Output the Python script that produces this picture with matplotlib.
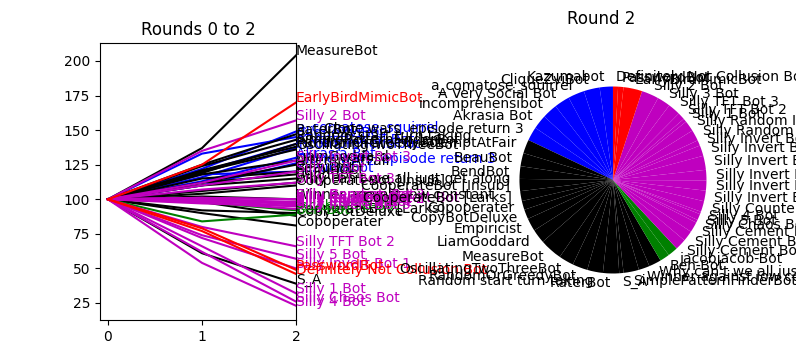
import matplotlib
matplotlib.use("Agg")
import matplotlib.pyplot as plt

# bots in pie order (counter-clockwise from the top), colour = team
names = [
    "Kazumabot", "CliqueZviBot", "a_comatose_squirrel", "A Very Social Bot",
    "incomprehensibot", "Akrasia Bot", "Clone wars, episode return 3",
    "AttemptAtFair", "BeauBot", "BendBot", "CooperateBot [Insub]",
    "CooperateBot [Larks]", "Copoperater", "CopyBotDeluxe", "Empiricist",
    "LiamGoddard", "MeasureBot", "OscillatingTwoThreeBot", "RandomOrGreedyBot",
    "Random start turn taking", "RaterBot", "S_A", "SimplePatternFinderBot",
    "Winner against low constant", "Why can't we all just get along",
    "Ben-Bot", "jacobjacob-Bot",
    "Silly Cement Bot 3", "Silly Cement Bot 2", "Silly Cement Bot",
    "Silly Chaos Bot", "Silly 5 Bot", "Silly 4 Bot", "Silly Counter Bot",
    "Silly Invert Bot 6", "Silly Invert Bot 5", "Silly Invert Bot 4",
    "Silly Invert Bot 3", "Silly Invert Bot 2", "Silly Invert Bot 1",
    "Silly Random Bot", "Silly Random Invert Bot", "Silly 1 Bot",
    "Silly TFT Bot 2", "Silly TFT Bot 3", "Silly 3 Bot", "Silly 2 Bot",
    "EarlyBirdMimicBot", "PasswordBot", "Definitely Not Collusion Bot",
]
colors = (["b"] * 7 + ["k"] * 18 + ["g"] * 2 + ["m"] * 20 + ["r"] * 3)

round0 = [100] * len(names)
round1 = [118, 133, 122, 120, 116, 113, 110,
          112, 115, 110, 104, 92, 90, 98, 112, 118, 137, 120, 121, 124, 125,
          61, 119, 102, 106,
          84, 98,
          101, 99, 97, 62, 74, 54, 100, 101, 98, 99, 112, 100, 72, 101, 99,
          66, 80, 107, 110, 135,
          125, 79, 77]
round2 = [120, 145, 149, 140, 137, 130, 126,
          125, 120, 115, 110, 90, 81, 88, 118, 128, 204, 136, 138, 143, 147,
          39, 140, 100, 112,
          89, 92,
          100, 97, 95, 26, 57, 23, 98, 96, 93, 95, 128, 97, 50, 100, 98,
          32, 66, 112, 120, 157,
          170, 49, 46]
rounds = [0, 1, 2]

fig = plt.figure(figsize=(7.96, 3.59), dpi=100)

ax1 = fig.add_axes([100 / 796, 39 / 359, 196 / 796, 277 / 359])
for name, c, a, b, d in zip(names, colors, round0, round1, round2):
    ax1.plot(rounds, [a, b, d], color=c)
    ax1.text(2, d, name, color=c)
ax1.set_xlim(-0.085, 2.0)
ax1.set_ylim(12.7, 213)
ax1.set_xticks(rounds)
ax1.set_yticks([25, 50, 75, 100, 125, 150, 175, 200])
ax1.set_title("Rounds 0 to 2")

ax2 = fig.add_axes([470 / 796, 31 / 359, 262 / 796, 296 / 359])
ax2.pie(round2, labels=names, colors=colors, startangle=90)
ax2.set_aspect("auto")
ax2.set_xlim(-1.529, 1.273)
ax2.set_ylim(-1.583, 1.583)
ax2.set_title("Round 2")

fig.savefig("out.png", dpi=100)
